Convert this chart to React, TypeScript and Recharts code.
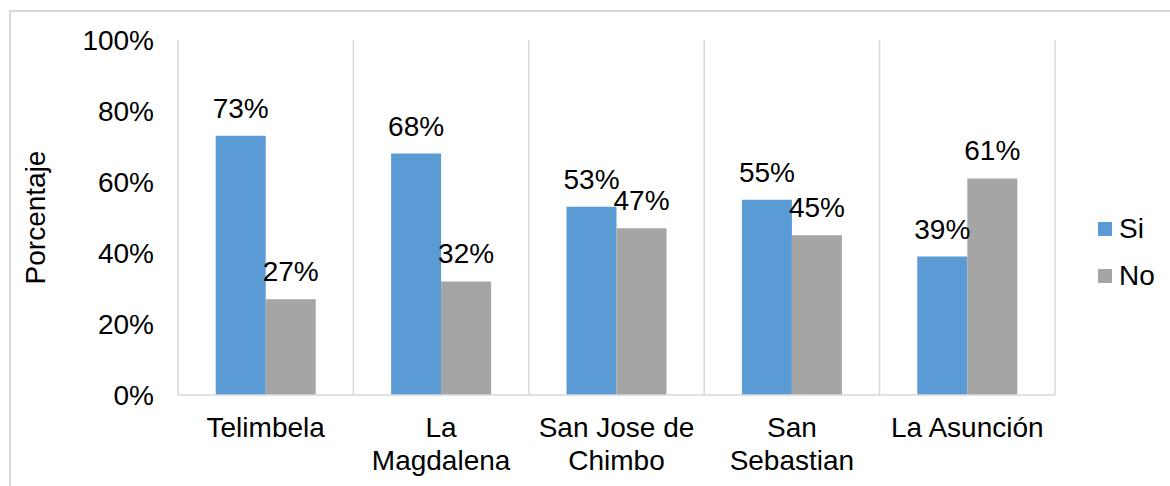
import React from 'react'
import { BarChart, Bar, XAxis, YAxis, CartesianGrid, Legend, LabelList } from 'recharts'

const categories = ['Telimbela', 'La\nMagdalena', 'San Jose de\nChimbo', 'San\nSebastian', 'La Asunción']
const siValues = [73, 68, 53, 55, 39]
const noValues = [27, 32, 47, 45, 61]
const yTicks = [0, 20, 40, 60, 80, 100]

const data = categories.map((name, i) => ({ name, si: siValues[i], no: noValues[i] }))

const FONT = "'Liberation Sans', Arial, sans-serif"
const FS = 28
const BLUE = '#5B9BD5'
const GRAY = '#A5A5A5'
const GRID = '#d9d9d9'

function CategoryTick(props: any) {
  const { x, y, payload } = props
  const lines = String(payload.value).split('\n')
  return (
    <text x={x} y={y} textAnchor="middle" fill="#000" fontSize={FS} fontFamily={FONT}>
      {lines.map((line, i) => (
        <tspan key={i} x={x} y={y + 42 + i * 33}>{line}</tspan>
      ))}
    </text>
  )
}

function LegendBox() {
  const items = [{ label: 'Si', color: BLUE }, { label: 'No', color: GRAY }]
  return (
    <div style={{ fontFamily: FONT, fontSize: FS, color: '#000' }}>
      {items.map((it) => (
        <div key={it.label} style={{ display: 'flex', alignItems: 'center', height: 47 }}>
          <span style={{ width: 14, height: 14, background: it.color, marginRight: 7, display: 'inline-block' }} />
          <span>{it.label}</span>
        </div>
      ))}
    </div>
  )
}

export default function App() {
  return (
    <div style={{ position: 'absolute', left: 0, top: 0, width: 1170, height: 486, background: '#fff', overflow: 'hidden' }}>
      <div style={{ position: 'absolute', left: 9, top: 10, width: 1300, height: 600, borderLeft: `2px solid ${GRID}`, borderTop: `2px solid ${GRID}` }} />
      <div style={{ position: 'absolute', left: 0, top: 0 }}>
        <BarChart
          width={1170}
          height={486}
          data={data}
          margin={{ top: 40, right: 115, bottom: 0, left: 0 }}
          barCategoryGap="21.5%"
          barGap={0}
        >
          <CartesianGrid
            horizontal={false}
            stroke={GRID}
            strokeWidth={1.5}
            verticalCoordinatesGenerator={({ offset }: any) =>
              Array.from({ length: categories.length + 1 }, (_, i) => offset.left + (i * offset.width) / categories.length)
            }
          />
          <XAxis
            dataKey="name"
            tickLine={false}
            axisLine={{ stroke: GRID, strokeWidth: 1.5 }}
            tick={<CategoryTick />}
            tickSize={0}
            tickMargin={0}
            interval={0}
            height={91}
          />
          <YAxis
            width={178}
            domain={[0, 100]}
            ticks={yTicks}
            tickFormatter={(v: number) => `${v}%`}
            tickLine={false}
            axisLine={false}
            tickSize={0}
            tickMargin={24}
            tick={{ fill: '#000', fontSize: FS, fontFamily: FONT }}
            label={{ value: 'Porcentaje', angle: -90, position: 'center', dx: -54, fill: '#000', fontSize: FS, fontFamily: FONT }}
          />
          <Legend
            layout="horizontal"
            verticalAlign="middle"
            content={<LegendBox />}
            wrapperStyle={{ position: 'absolute', left: 1098, top: 205, width: 72 }}
          />
          <Bar dataKey="si" name="Si" fill={BLUE} isAnimationActive={false}>
            <LabelList dataKey="si" position="top" offset={18} formatter={(v: any) => `${v}%`} fill="#000" fontSize={FS} fontFamily={FONT} />
          </Bar>
          <Bar dataKey="no" name="No" fill={GRAY} isAnimationActive={false}>
            <LabelList dataKey="no" position="top" offset={18} formatter={(v: any) => `${v}%`} fill="#000" fontSize={FS} fontFamily={FONT} />
          </Bar>
        </BarChart>
      </div>
    </div>
  )
}
